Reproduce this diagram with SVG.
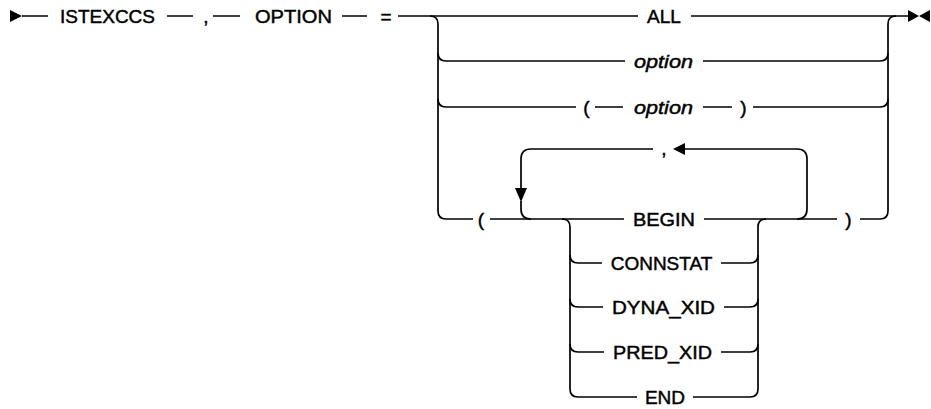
<svg xmlns="http://www.w3.org/2000/svg" width="931" height="409" viewBox="0 0 931 409">
<style>
.ln{fill:none;stroke:#000;stroke-width:1.7}
.ah{fill:#000;stroke:none}
text{font-family:"Liberation Sans",Arial,sans-serif;font-size:19px;fill:#000;stroke:#000;stroke-width:0.45;text-anchor:middle}
.it{font-style:italic}
</style>
<rect width="931" height="409" fill="#fff"/>
<g id="connectors">
<polygon class="ah" points="10,10 22,16 10,22"/>
<path class="ln" d="M22 16H48M167 16H193M213 16H240M342 16H367M398 16H638M691 16H908"/>
<polygon class="ah" points="908,10 919,16 908,22"/>
<polygon class="ah" points="930,10 919,16 930,22"/>
<path class="ln" d="M430 16Q438 16 438 24V211Q438 219 446 219H473"/>
<path class="ln" d="M438 53Q438 61 446 61H625M703 61H880Q888 61 888 53"/>
<path class="ln" d="M438 99Q438 107 446 107H576M595 107H623M703 107H732M753 107H880Q888 107 888 99"/>
<path class="ln" d="M896 16Q888 16 888 24V211Q888 219 880 219H860"/>
<path class="ln" d="M490 219H624M704 219H837"/>
<path class="ln" d="M797 219Q807 219 807 209V159Q807 149 797 149H685"/>
<polygon class="ah" points="673,149 685,143 685,155"/>
<path class="ln" d="M653 149H531Q521 149 521 159V189"/>
<polygon class="ah" points="515,188 527,188 521,202"/>
<path class="ln" d="M521 201V209Q521 219 531 219"/>
<path class="ln" d="M562 219Q570 219 570 227V389Q570 397 578 397H637M693 397H750Q758 397 758 389V227Q758 219 766 219"/>
<path class="ln" d="M570 255Q570 263 578 263H602M721 263H750Q758 263 758 255"/>
<path class="ln" d="M570 299Q570 307 578 307H603M724 307H750Q758 307 758 299"/>
<path class="ln" d="M570 344Q570 352 578 352H604M721 352H750Q758 352 758 344"/>
</g>
<g id="n-istexccs"><text x="107.5" y="23">ISTEXCCS</text></g>
<g id="n-comma1"><text x="206" y="23">,</text></g>
<g id="n-option-kw"><text x="293.5" y="23" textLength="77" lengthAdjust="spacingAndGlyphs">OPTION</text></g>
<g id="n-equals"><text x="386" y="23">=</text></g>
<g id="n-all"><text x="664" y="23">ALL</text></g>
<g id="n-option"><text class="it" x="663.5" y="68" textLength="59" lengthAdjust="spacingAndGlyphs">option</text></g>
<g id="n-paren-option">
<text x="586.5" y="114">(</text>
<text class="it" x="663.5" y="114" textLength="59" lengthAdjust="spacingAndGlyphs">option</text>
<text x="743.5" y="114">)</text>
</g>
<g id="n-lparen"><text x="481" y="226">(</text></g>
<g id="n-rparen"><text x="848.5" y="226">)</text></g>
<g id="n-comma2"><text x="664" y="155">,</text></g>
<g id="n-begin"><text x="664" y="226" textLength="62" lengthAdjust="spacingAndGlyphs">BEGIN</text></g>
<g id="n-connstat"><text x="661.5" y="270">CONNSTAT</text></g>
<g id="n-dyna-xid"><text x="663.5" y="314" textLength="103" lengthAdjust="spacingAndGlyphs">DYNA_XID</text></g>
<g id="n-pred-xid"><text x="662.5" y="359" textLength="99" lengthAdjust="spacingAndGlyphs">PRED_XID</text></g>
<g id="n-end"><text x="665" y="404">END</text></g>
</svg>
